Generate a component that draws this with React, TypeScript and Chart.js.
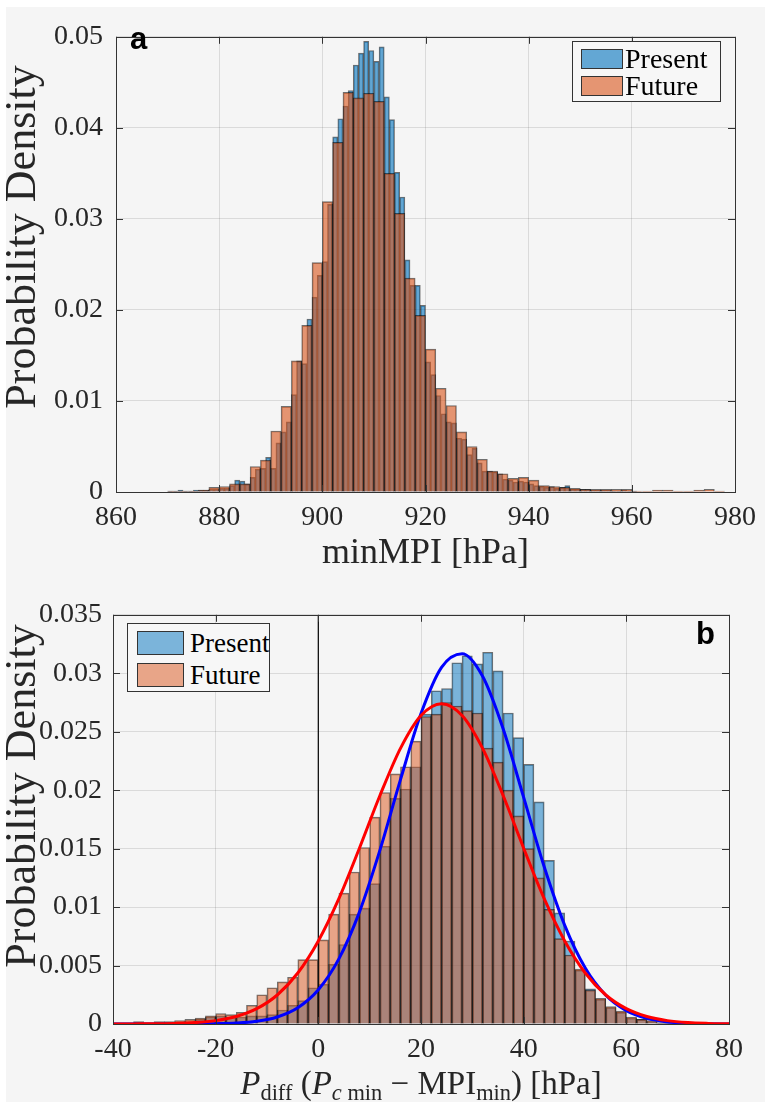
import React, { useEffect, useRef } from 'react';
import { Chart, registerables } from 'chart.js';

Chart.register(...registerables);

// ---------------- Panel a : minMPI histograms ----------------
const seriesNames = ['Present', 'Future'];
const yAxisTitle = 'Probability Density';

const aPresentStart = 870; // left edge of first bin [hPa]
const aPresentBinWidth = 1;
const aPresent = [
  0.0001, 0.0001, 0.0002, 0.0001, 0.0001, 0.0002, 0.0002, 0.0002, 0.0003, 0.0003,
  0.0004, 0.0004, 0.0007, 0.0013, 0.0012, 0.0009, 0.0016, 0.0025, 0.0026, 0.0038,
  0.0026, 0.0054, 0.0066, 0.0077, 0.0107, 0.0144, 0.0141, 0.0190, 0.0214, 0.0238,
  0.0253, 0.0316, 0.0390, 0.0410, 0.0424, 0.0441, 0.0469, 0.0482, 0.0495, 0.0485,
  0.0473, 0.0489, 0.0434, 0.0409, 0.0351, 0.0324, 0.0255, 0.0227, 0.0227, 0.0205,
  0.0143, 0.0129, 0.0106, 0.0086, 0.0077, 0.0076, 0.0059, 0.0058, 0.0041, 0.0048,
  0.0032, 0.0023, 0.0023, 0.0022, 0.0020, 0.0014, 0.0013, 0.0011, 0.0012, 0.0011,
  0.0009, 0.0007, 0.0006, 0.0005, 0.0006, 0.0004, 0.0005, 0.0007, 0.0003, 0.0003,
  0.0003, 0.0003, 0.0002, 0.0002, 0.0002, 0.0002, 0.0001, 0.0001, 0.0002, 0.0001,
  0.0001,
];

const aFutureStart = 870;
const aFutureBinWidth = 2;
const aFuture = [
  0.0001, 0.0001, 0.0001, 0.0002, 0.0005, 0.0006, 0.0009, 0.0009, 0.0028, 0.0035,
  0.0067, 0.0094, 0.0144, 0.0183, 0.0252, 0.0319, 0.0384, 0.0439, 0.0433, 0.0438,
  0.0429, 0.0350, 0.0306, 0.0235, 0.0194, 0.0157, 0.0114, 0.0095, 0.0066, 0.0050,
  0.0036, 0.0023, 0.0020, 0.0015, 0.0016, 0.0013, 0.0007, 0.0006, 0.0005, 0.0004,
  0.0003, 0.0003, 0.0003, 0.0003, 0.0003, 0.0001, 0.0001, 0.0002, 0.0002, 0.0001,
  0.0001, 0.0002, 0.0003, 0.0001,
];

const aXRange = [860, 980];
const aXStep = 20;
const aYRange = [0, 0.05];
const aYStep = 0.01;

// ---------------- Panel b : Pdiff histograms + normal fits ----------------
const bPresentStart = -40;
const bPresentBinWidth = 2;
const bPresent = [
  0.0000, 0.0000, 0.0001, 0.0000, 0.0001, 0.0001, 0.0001, 0.0002, 0.0004, 0.0006,
  0.0007, 0.0006, 0.0006, 0.0007, 0.0007, 0.0008, 0.0012, 0.0016, 0.0020, 0.0031,
  0.0034, 0.0051, 0.0068, 0.0094, 0.0099, 0.0120, 0.0152, 0.0193, 0.0201, 0.0220,
  0.0265, 0.0285, 0.0287, 0.0309, 0.0315, 0.0308, 0.0318, 0.0302, 0.0266, 0.0245,
  0.0222, 0.0190, 0.0140, 0.0095, 0.0071, 0.0046, 0.0030, 0.0021, 0.0014, 0.0010,
  0.0005, 0.0004, 0.0002, 0.0001, 0.0001,
];

const bFutureStart = -40;
const bFutureBinWidth = 2;
const bFuture = [
  0.0001, 0.0001, 0.0002, 0.0001, 0.0002, 0.0002, 0.0003, 0.0004, 0.0005, 0.0007,
  0.0009, 0.0008, 0.0010, 0.0016, 0.0025, 0.0031, 0.0036, 0.0040, 0.0055, 0.0055,
  0.0072, 0.0094, 0.0112, 0.0130, 0.0151, 0.0177, 0.0198, 0.0214, 0.0220, 0.0242,
  0.0263, 0.0265, 0.0275, 0.0272, 0.0268, 0.0266, 0.0236, 0.0224, 0.0200, 0.0178,
  0.0150, 0.0125, 0.0098, 0.0073, 0.0059, 0.0047, 0.0029, 0.0022, 0.0015, 0.0011,
  0.0006, 0.0004, 0.0003, 0.0001, 0.0001,
];

// fitted curves
const bCurveX = [
  -40, -36, -32, -28, -24, -20, -16, -12, -8, -4, 0, 4, 8, 12, 16, 20,
  24, 28, 32, 36, 40, 44, 48, 52, 56, 60, 64, 68, 72, 76, 80,
];
const bPresentFit = [
  0.0000, 0.0000, 0.0000, 0.0000, 0.00001, 0.00003, 0.00008, 0.00023, 0.0006, 0.00139,
  0.00293, 0.00557, 0.00957, 0.01487, 0.0209, 0.02655, 0.0305, 0.03167, 0.02974, 0.02525,
  0.01938, 0.01345, 0.00844, 0.00479, 0.00246, 0.00114, 0.00048, 0.00018, 0.00006, 0.00002,
  0.0000,
];
const bFutureFit = [
  0.0000, 0.00001, 0.00002, 0.00005, 0.00012, 0.00029, 0.00064, 0.00131, 0.00248, 0.00436,
  0.0071, 0.01072, 0.01503, 0.01954, 0.02358, 0.02639, 0.0274, 0.02639, 0.02358, 0.01954,
  0.01503, 0.01072, 0.0071, 0.00436, 0.00248, 0.00131, 0.00064, 0.00029, 0.00012, 0.00005,
  0.00002,
];
const bZeroLineX = 0;

const bXRange = [-40, 80];
const bXStep = 20;
const bYRange = [0, 0.035];
const bYStep = 0.005;

// ---------------- styling ----------------
const SERIF = "'Liberation Serif', 'Times New Roman', serif";
const SANS = "'Liberation Sans', Arial, sans-serif";
const TEXT = '#262626';
const BG = '#f5f5f5';
const GRID = 'rgba(0,0,0,0.11)';
const EDGE = 'rgba(0,0,0,0.55)';

const blueA = 'rgba(0,114,189,0.6)';
const orangeA = 'rgba(217,83,25,0.6)';
const blueB = 'rgba(0,114,189,0.5)';
const orangeB = 'rgba(217,83,25,0.5)';

const W = 759;
const HA = 580;
const HB = 515;

const toBars = (vals: number[], start: number, width: number) =>
  vals.map((v, i) => ({ x: start + (i + 0.5) * width, y: v }));

const fmt = (v: any) => String(parseFloat(Number(v).toFixed(4)));

const framePlugin = {
  id: 'frame',
  afterDatasetsDraw(chart: any) {
    const { ctx, chartArea: a, scales } = chart;
    const x = scales.x;
    const y = scales.y;
    ctx.save();
    ctx.strokeStyle = '#333333';
    ctx.lineWidth = 1;
    ctx.beginPath();
    for (const t of x.ticks) {
      const p = Math.round(x.getPixelForValue(t.value)) + 0.5;
      ctx.moveTo(p, a.bottom);
      ctx.lineTo(p, a.bottom - 7);
      ctx.moveTo(p, a.top);
      ctx.lineTo(p, a.top + 7);
    }
    for (const t of y.ticks) {
      const p = Math.round(y.getPixelForValue(t.value)) + 0.5;
      ctx.moveTo(a.left, p);
      ctx.lineTo(a.left + 7, p);
      ctx.moveTo(a.right, p);
      ctx.lineTo(a.right - 7, p);
    }
    ctx.stroke();
    ctx.strokeRect(Math.round(a.left) + 0.5, Math.round(a.top) + 0.5, Math.round(a.right - a.left), Math.round(a.bottom - a.top));
    ctx.restore();
  },
};

function makeScales(opts: {
  xRange: number[]; xStep: number; yRange: number[]; yStep: number;
  xTitle: string | null; yAxisWidth: number; xAxisHeight: number; yPad: number;
}) {
  const tickFont = { family: SERIF, size: 28 };
  return {
    x: {
      type: 'linear',
      min: opts.xRange[0],
      max: opts.xRange[1],
      offset: false,
      ticks: { stepSize: opts.xStep, font: tickFont, color: TEXT, padding: 9, maxRotation: 0, autoSkip: false, callback: fmt },
      grid: { color: GRID, drawTicks: false, offset: false, lineWidth: 1 },
      border: { display: false },
      title: opts.xTitle
        ? { display: true, text: opts.xTitle, color: TEXT, font: { family: SERIF, size: 36 }, padding: { top: 0, bottom: 12 } }
        : { display: false },
      afterFit: (s: any) => { s.height = opts.xAxisHeight; },
    },
    x2: {
      type: 'linear',
      axis: 'x',
      min: opts.xRange[0],
      max: opts.xRange[1],
      offset: false,
      display: false,
      grid: { offset: false },
    },
    y: {
      type: 'linear',
      min: opts.yRange[0],
      max: opts.yRange[1],
      ticks: { stepSize: opts.yStep, font: tickFont, color: TEXT, padding: opts.yPad, callback: fmt },
      grid: { color: GRID, drawTicks: false, lineWidth: 1 },
      border: { display: false },
      title: { display: false },
      afterFit: (s: any) => { s.width = opts.yAxisWidth; },
    },
  };
}

const barStyle = {
  type: 'bar' as const,
  borderColor: EDGE,
  borderWidth: 1,
  barPercentage: 1,
  categoryPercentage: 1,
  grouped: false,
};

function Legend(props: { left: number; top: number; width: number; height: number; sw: number; sh: number; rows: number[]; swLeft: number; textLeft: number; font: number; colors: string[] }) {
  return (
    <div style={{ position: 'absolute', left: props.left, top: props.top, width: props.width, height: props.height, border: '1px solid #333', background: '#f7f7f7', boxSizing: 'border-box' }}>
      {seriesNames.map((name, i) => (
        <React.Fragment key={name}>
          <div style={{ position: 'absolute', left: props.swLeft, top: props.rows[i], width: props.sw, height: props.sh, background: props.colors[i], border: '1px solid #333', boxSizing: 'border-box' }} />
          <div style={{ position: 'absolute', left: props.textLeft, top: props.rows[i] + props.sh / 2 - props.font * 0.6, fontFamily: SERIF, fontSize: props.font, lineHeight: `${props.font * 1.2}px`, color: '#000', whiteSpace: 'nowrap' }}>{name}</div>
        </React.Fragment>
      ))}
    </div>
  );
}

function YTitle(props: { cx: number; cy: number }) {
  return (
    <div style={{ position: 'absolute', left: props.cx, top: props.cy, transform: 'translate(-50%, -50%) rotate(-90deg)', fontFamily: SERIF, fontSize: 44, lineHeight: '44px', color: TEXT, whiteSpace: 'nowrap' }}>
      {yAxisTitle}
    </div>
  );
}

export default function App() {
  const refA = useRef<HTMLCanvasElement>(null);
  const refB = useRef<HTMLCanvasElement>(null);

  useEffect(() => {
    const chartA = new Chart(refA.current as HTMLCanvasElement, {
      type: 'bar',
      data: {
        datasets: [
          { ...barStyle, label: seriesNames[1], data: toBars(aFuture, aFutureStart, aFutureBinWidth), xAxisID: 'x2', backgroundColor: orangeA, order: 2 },
          { ...barStyle, label: seriesNames[0], data: toBars(aPresent, aPresentStart, aPresentBinWidth), xAxisID: 'x', backgroundColor: blueA, order: 3 },
        ] as any,
      },
      options: {
        responsive: false,
        animation: false,
        events: [],
        layout: { padding: { top: 10, right: 26, left: 0, bottom: 0 } },
        plugins: { legend: { display: false }, tooltip: { enabled: false } },
        scales: makeScales({ xRange: aXRange, xStep: aXStep, yRange: aYRange, yStep: aYStep, xTitle: 'minMPI [hPa]', yAxisWidth: 110, xAxisHeight: 95, yPad: 13 }) as any,
      },
      plugins: [framePlugin],
    });

    const chartB = new Chart(refB.current as HTMLCanvasElement, {
      type: 'bar',
      data: {
        datasets: [
          { type: 'line', label: 'Future fit', data: bCurveX.map((x, i) => ({ x, y: bFutureFit[i] })), xAxisID: 'x', borderColor: '#ff0000', borderWidth: 3, pointRadius: 0, cubicInterpolationMode: 'monotone', order: 0 },
          { type: 'line', label: 'Present fit', data: bCurveX.map((x, i) => ({ x, y: bPresentFit[i] })), xAxisID: 'x', borderColor: '#0000ff', borderWidth: 3, pointRadius: 0, cubicInterpolationMode: 'monotone', order: 1 },
          { type: 'line', label: 'zero', data: [{ x: bZeroLineX, y: bYRange[0] }, { x: bZeroLineX, y: bYRange[1] }], xAxisID: 'x', borderColor: '#111111', borderWidth: 1.3, pointRadius: 0, order: 2 },
          { ...barStyle, label: seriesNames[1], data: toBars(bFuture, bFutureStart, bFutureBinWidth), xAxisID: 'x2', backgroundColor: orangeB, order: 3 },
          { ...barStyle, label: seriesNames[0], data: toBars(bPresent, bPresentStart, bPresentBinWidth), xAxisID: 'x', backgroundColor: blueB, order: 4 },
        ] as any,
      },
      options: {
        responsive: false,
        animation: false,
        events: [],
        layout: { padding: { top: 21, right: 36, left: 0, bottom: 0 } },
        plugins: { legend: { display: false }, tooltip: { enabled: false } },
        scales: makeScales({ xRange: bXRange, xStep: bXStep, yRange: bYRange, yStep: bYStep, xTitle: null, yAxisWidth: 107, xAxisHeight: 78, yPad: 11 }) as any,
      },
      plugins: [framePlugin],
    });

    return () => {
      chartA.destroy();
      chartB.destroy();
    };
  }, []);

  const subStyle: React.CSSProperties = { fontSize: '0.68em', verticalAlign: '-0.28em', lineHeight: 0 };

  return (
    <div style={{ position: 'absolute', left: 6, top: 7, width: W, height: HA + HB, background: BG, overflow: 'hidden' }}>
      <canvas ref={refA} width={W} height={HA} style={{ position: 'absolute', left: 0, top: 0, width: W, height: HA }} />
      <canvas ref={refB} width={W} height={HB} style={{ position: 'absolute', left: 0, top: HA, width: W, height: HB }} />

      <YTitle cx={15} cy={230} />
      <YTitle cx={15} cy={789} />

      <div style={{ position: 'absolute', left: 124, top: 16, fontFamily: SANS, fontWeight: 'bold', fontSize: 31, lineHeight: '31px', color: '#000' }}>a</div>
      <div style={{ position: 'absolute', left: 690, top: 611, fontFamily: SANS, fontWeight: 'bold', fontSize: 31, lineHeight: '31px', color: '#000' }}>b</div>

      <Legend left={566} top={34} width={149} height={61} sw={42} sh={20} rows={[7, 34]} swLeft={8} textLeft={52} font={28} colors={[blueA, orangeA]} />
      <Legend left={121} top={616} width={143} height={69} sw={47} sh={24} rows={[7, 39]} swLeft={9} textLeft={62} font={27} colors={[blueB, orangeB]} />

      <div style={{ position: 'absolute', left: 215, top: 1060, width: 400, textAlign: 'center', fontFamily: SERIF, fontSize: 33, lineHeight: '33px', color: TEXT, whiteSpace: 'nowrap' }}>
        <i>P</i><span style={subStyle}>diff</span> (<i>P</i><span style={subStyle}><i>c</i> min</span> − MPI<span style={subStyle}>min</span>) [hPa]
      </div>
    </div>
  );
}
